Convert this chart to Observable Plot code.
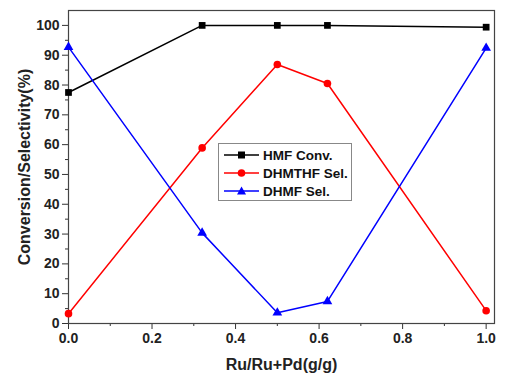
<!DOCTYPE html>
<html><head><meta charset="utf-8">
<script src="https://cdn.jsdelivr.net/npm/d3@7"></script>
<script src="https://cdn.jsdelivr.net/npm/@observablehq/plot@0.6"></script>
<style>
body{margin:0;background:#fff;font-family:"Liberation Sans",Arial,sans-serif;}
#wrap{position:relative;width:513px;height:388px;}
#legend{position:absolute;left:218px;top:143px;width:134px;height:58px;border:1px solid #888;box-sizing:border-box;background:#fff;font-weight:bold;font-size:13.5px;padding-top:2px;color:#111;}
#legend .row{display:flex;align-items:center;height:18px;padding-left:4px;white-space:nowrap;}
#legend svg{margin-right:3px;flex-shrink:0;}
</style></head><body><div id="wrap"></div>
<script>
const xValues = [0, 0.32, 0.5, 0.62, 1.0];
const hmfConv = [77.5, 100, 100, 100, 99.4];
const dhmthfSel = [3.3, 58.9, 86.9, 80.5, 4.3];
const dhmfSel = [92.7, 30.4, 3.6, 7.4, 92.4];
const seriesNames = ["HMF Conv.", "DHMTHF Sel.", "DHMF Sel."];
const seriesColors = ["#000000", "#ff0000", "#0000ff"];
const seriesSymbols = ["square", "circle", "triangle"];
const xTicks = [0, 0.2, 0.4, 0.6, 0.8, 1.0];
const xMinorTicks = [0.1, 0.3, 0.5, 0.7, 0.9];
const yTicks = [0, 10, 20, 30, 40, 50, 60, 70, 80, 90, 100];
const yMinorTicks = [5, 15, 25, 35, 45, 55, 65, 75, 85, 95];
const xLabel = "Ru/Ru+Pd(g/g)";
const yLabel = "Conversion/Selectivity(%)";

const seriesValues = [hmfConv, dhmthfSel, dhmfSel];
const data = seriesNames.flatMap((name, i) => xValues.map((x, j) => ({series: name, x, y: seriesValues[i][j]})));

const axisColor = "#333";
const marks = [
  Plot.axisX({ticks: xMinorTicks, tickSize: 3, tickFormat: () => "", stroke: axisColor, label: null}),
  Plot.axisY({ticks: yMinorTicks, tickSize: 3, tickFormat: () => "", stroke: axisColor, label: null}),
  Plot.axisX({ticks: xTicks, tickSize: 6, tickPadding: 4, tickFormat: d3.format(".1f"), stroke: axisColor, fill: "#222", fontSize: 14, label: null}),
  Plot.axisY({ticks: yTicks, tickSize: 6, tickPadding: 3, stroke: axisColor, fill: "#222", fontSize: 14, label: null}),
  Plot.axisX({ticks: [], label: xLabel, labelAnchor: "center", labelArrow: "none", labelOffset: 46, fontSize: 16, fill: "#222"}),
  Plot.axisY({ticks: [], label: yLabel, labelAnchor: "center", labelArrow: "none", labelOffset: 50, fontSize: 16, fill: "#222"}),
  Plot.frame({stroke: "#444", strokeWidth: 1.2})
];
seriesNames.forEach((name, i) => {
  const d = data.filter(r => r.series === name);
  marks.push(Plot.line(d, {x: "x", y: "y", stroke: seriesColors[i], strokeWidth: 1.5}));
  marks.push(Plot.dot(d, {x: "x", y: "y", fill: seriesColors[i], symbol: () => seriesSymbols[i], r: seriesSymbols[i] === "triangle" ? 3.6 : 3.8}));
});

const chart = Plot.plot({
  width: 513, height: 388,
  marginLeft: 68, marginRight: 19, marginTop: 10, marginBottom: 65,
  x: {domain: [0, 1.02]},
  y: {domain: [0, 105]},
  symbol: {type: "identity"},
  style: {fontFamily: "'Liberation Sans', Arial, sans-serif", fontWeight: "bold", fontSize: "14px", background: "#fff", color: "#222"},
  marks
});
const wrap = document.getElementById("wrap");
wrap.appendChild(chart);

const legend = document.createElement("div");
legend.id = "legend";
const sym = {
  square: '<rect x="15" y="2.5" width="7" height="7"/>',
  circle: '<circle cx="18.5" cy="6" r="3.8"/>',
  triangle: '<path d="M18.5,1.5 L23,9.5 L14,9.5 Z"/>'
};
seriesNames.forEach((name, i) => {
  const row = document.createElement("div");
  row.className = "row";
  row.innerHTML = `<svg width="37" height="12"><line x1="1" x2="36" y1="6" y2="6" stroke="${seriesColors[i]}" stroke-width="1.5"/><g fill="${seriesColors[i]}">${sym[seriesSymbols[i]]}</g></svg><span>${name}</span>`;
  legend.appendChild(row);
});
wrap.appendChild(legend);
</script></body></html>
